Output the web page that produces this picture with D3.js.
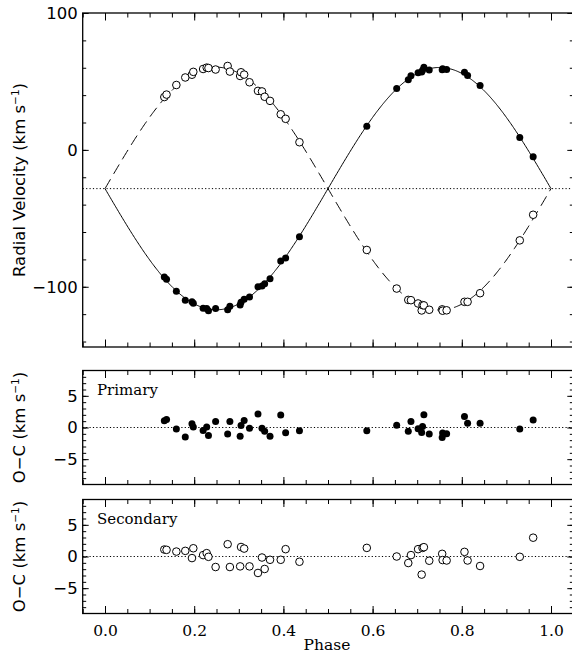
<!DOCTYPE html>
<html>
<head>
<meta charset="utf-8">
<script src="https://cdn.jsdelivr.net/npm/d3@7"></script>
<style>
body{margin:0;background:#fff;}
</style>
</head>
<body>
<div id="chart"></div>
<script>
// phases des observations (communes aux deux composantes)
var phase = [0.133,0.138,0.160,0.180,0.195,0.198,0.220,0.228,0.232,0.248,
             0.275,0.280,0.303,0.305,0.312,0.324,0.343,0.352,0.358,0.370,
             0.394,0.405,0.436,0.587,0.654,0.680,0.686,0.702,0.710,0.712,
             0.715,0.727,0.756,0.757,0.766,0.806,0.813,0.841,0.930,0.960];

// vitesses radiales mesurees (km/s)
var rvPrimary = [-92.9,-94.5,-103.3,-109.9,-111.0,-112.1,-115.7,-115.9,-117.5,-115.9,
                 -116.7,-114.3,-113.3,-111.3,-109.1,-107.5,-100.0,-99.4,-97.8,-94.2,
                 -81.1,-78.9,-63.4,17.3,44.9,51.2,54.2,56.3,56.9,58.1,
                 60.3,58.3,58.6,59.2,58.8,56.7,54.3,47.1,9.1,-5.1];
var rvSecondary = [38.6,40.4,47.4,52.9,54.9,57.0,59.1,60.1,59.8,58.7,
                   61.3,57.2,54.0,56.7,55.0,49.4,43.1,42.7,38.8,35.8,
                   26.0,22.7,5.6,-73.1,-101.3,-109.6,-109.8,-112.2,-117.3,-113.4,
                   -113.6,-116.8,-116.5,-117.5,-117.2,-111.0,-111.0,-104.7,-66.1,-47.4];

// residus O-C (km/s)
var ocPrimary = [1.05,1.25,-0.25,-1.5,0.58,0.06,-0.47,0.06,-1.25,0.94,
                 -1.03,0.94,-1.4,0.31,1.1,-0.1,2.14,-0.1,-0.6,-1.4,
                 1.98,-0.83,-0.5,-0.52,0.37,-0.6,0.94,-0.2,-0.78,0.16,
                 2.0,-1.03,-1.56,-0.88,-0.98,1.72,0.69,0.69,-0.25,1.2];
var ocSecondary = [1.1,1.05,0.78,0.89,-0.25,1.3,0.22,0.53,-0.05,-1.66,
                   1.94,-1.66,-1.56,1.5,1.25,-1.56,-2.6,-0.16,-1.97,-0.52,
                   -0.52,1.16,-0.83,1.36,0.0,-1.03,0.22,1.16,-2.86,1.36,
                   1.47,-0.67,0.42,-0.56,-0.63,0.73,-0.63,-1.5,-0.05,2.97];

// solution orbitale (orbite circulaire)
var gamma = -28.3, K1 = 88.5, K2 = 88.7;

var xTicks = [0.0,0.2,0.4,0.6,0.8,1.0];
var rvTicks = [-100,0,100];
var ocTicks = [-5,0,5];

var W = 572, H = 655;
var svg = d3.select('#chart').append('svg').attr('width',W).attr('height',H);

var x = d3.scaleLinear().domain([-0.05,1.05]).range([82.7,573.3]);
var yRV = d3.scaleLinear().domain([-144,100]).range([347,13]);
var yOC1 = d3.scaleLinear().domain([-9,9]).range([484.5,370.5]);
var yOC2 = d3.scaleLinear().domain([-9,9]).range([613.5,499.5]);

var SANS = 'DejaVu Sans', SERIF = 'DejaVu Serif';

function tidy(g){
    g.select('.domain').remove();
    g.selectAll('line').attr('stroke','#000').attr('stroke-width',1);
}

/* cadre + graduations vers l'interieur sur les 4 cotes */
function draw_axes(y, major, minor, withXLabels){
    var g = svg.append('g');
    var xMinor = d3.range(-0.05,1.06,0.05);
    var noLabel = function(){ return ''; };
    var y0 = y.range()[0], y1 = y.range()[1];
    var x0 = x.range()[0], x1 = x.range()[1];

    g.append('g').attr('transform','translate(0,'+y0+')')
        .call(d3.axisBottom(x).tickValues(xMinor).tickSize(-4.5).tickSizeOuter(0).tickFormat(noLabel)).call(tidy);
    var bx = g.append('g').attr('transform','translate(0,'+y0+')')
        .call(d3.axisBottom(x).tickValues(xTicks).tickSize(-7.5).tickSizeOuter(0).tickPadding(11)
              .tickFormat(withXLabels ? d3.format('.1f') : noLabel)).call(tidy);
    bx.selectAll('text').attr('font-family',SERIF).attr('font-size',15.5).attr('fill','#000');

    g.append('g').attr('transform','translate(0,'+y1+')')
        .call(d3.axisTop(x).tickValues(xMinor).tickSize(-4.5).tickSizeOuter(0).tickFormat(noLabel)).call(tidy);
    g.append('g').attr('transform','translate(0,'+y1+')')
        .call(d3.axisTop(x).tickValues(xTicks).tickSize(-7.5).tickSizeOuter(0).tickFormat(noLabel)).call(tidy);

    g.append('g').attr('transform','translate('+x0+',0)')
        .call(d3.axisLeft(y).tickValues(minor).tickSize(-3.5).tickSizeOuter(0).tickFormat(noLabel)).call(tidy);
    var ly = g.append('g').attr('transform','translate('+x0+',0)')
        .call(d3.axisLeft(y).tickValues(major).tickSize(-6).tickSizeOuter(0).tickPadding(5)
              .tickFormat(function(d){ return d < 0 ? '\u2212'+Math.abs(d) : d; })).call(tidy);
    ly.selectAll('text').attr('font-family',SANS).attr('font-size',16.5).attr('fill','#000');

    g.append('g').attr('transform','translate('+x1+',0)')
        .call(d3.axisRight(y).tickValues(minor).tickSize(-3.5).tickSizeOuter(0).tickFormat(noLabel)).call(tidy);
    g.append('g').attr('transform','translate('+x1+',0)')
        .call(d3.axisRight(y).tickValues(major).tickSize(-6).tickSizeOuter(0).tickFormat(noLabel)).call(tidy);

    g.append('rect').attr('x',x0).attr('y',y1).attr('width',x1-x0).attr('height',y0-y1)
        .attr('fill','none').attr('stroke','#000').attr('stroke-width',1.3);
}

function y_title(tx, ty, label){
    var t = svg.append('text').attr('transform','translate('+tx+','+ty+') rotate(-90)')
        .attr('text-anchor','middle').attr('font-family',SANS).attr('font-size',16.5).attr('fill','#000');
    t.append('tspan').text(label+' (km s');
    t.append('tspan').attr('dy',-6).attr('font-size',10.5).text('\u22121');
    t.append('tspan').attr('dy',6).text(')');
}

function hline(y, v){
    svg.append('line').attr('x1',x.range()[0]).attr('x2',x.range()[1]).attr('y1',y(v)).attr('y2',y(v))
        .attr('stroke','#000').attr('stroke-width',1).attr('stroke-dasharray','1.2,2.2');
}

function points(y, vals, filled){
    svg.append('g').selectAll('circle').data(vals).enter().append('circle')
        .attr('cx',function(d,i){ return x(phase[i]); })
        .attr('cy',function(d){ return y(d); })
        .attr('r',filled ? 3.5 : 3.8)
        .attr('fill',filled ? '#000' : '#fff')
        .attr('stroke','#000').attr('stroke-width',filled ? 0 : 1);
}

/* ---- panneau des vitesses radiales ---- */
var curvePhase = d3.range(0,1.0001,0.002);
hline(yRV, gamma);
var line1 = d3.line().x(function(p){ return x(p); }).y(function(p){ return yRV(gamma - K1*Math.sin(2*Math.PI*p)); });
var line2 = d3.line().x(function(p){ return x(p); }).y(function(p){ return yRV(gamma + K2*Math.sin(2*Math.PI*p)); });
svg.append('path').attr('d',line1(curvePhase)).attr('fill','none').attr('stroke','#000').attr('stroke-width',1);
svg.append('path').attr('d',line2(curvePhase)).attr('fill','none').attr('stroke','#000').attr('stroke-width',1)
    .attr('stroke-dasharray','11,6');
points(yRV, rvPrimary, true);
points(yRV, rvSecondary, false);
draw_axes(yRV, rvTicks, d3.range(-140,101,20), false);
y_title(24.5, 180, 'Radial Velocity');

/* ---- residus primaire ---- */
hline(yOC1, 0);
points(yOC1, ocPrimary, true);
draw_axes(yOC1, ocTicks, d3.range(-8,9,1), false);
svg.append('text').attr('x',97).attr('y',395).attr('font-family',SERIF).attr('font-size',15).text('Primary');
y_title(24.5, 427.5, 'O\u2212C');

/* ---- residus secondaire ---- */
hline(yOC2, 0);
points(yOC2, ocSecondary, false);
draw_axes(yOC2, ocTicks, d3.range(-8,9,1), true);
svg.append('text').attr('x',97).attr('y',523.5).attr('font-family',SERIF).attr('font-size',15).text('Secondary');
y_title(24.5, 556.5, 'O\u2212C');

svg.append('text').attr('x',327).attr('y',650).attr('text-anchor','middle')
    .attr('font-family',SERIF).attr('font-size',15.5).text('Phase');
</script>
</body>
</html>
